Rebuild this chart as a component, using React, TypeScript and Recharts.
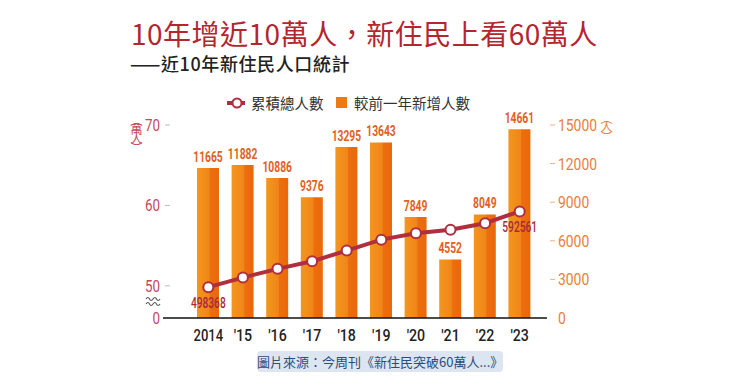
import React from 'react';
import {
  ComposedChart,
  Bar,
  Line,
  XAxis,
  YAxis,
  LabelList,
} from 'recharts';

// values
const years = ["2014", "'15", "'16", "'17", "'18", "'19", "'20", "'21", "'22", "'23"];
const newResidents = [11665, 11882, 10886, 9376, 13295, 13643, 7849, 4552, 8049, 14661];
const cumulative = [498368, 510250, 521136, 530512, 543807, 557450, 565299, 569851, 577900, 592561];

const leftTicks = [460000, 500000, 600000, 700000];
const rightTicks = [0, 3000, 6000, 9000, 12000, 15000];

const data = years.map((year, i) => ({
  year,
  added: newResidents[i],
  total: cumulative[i],
}));

const NUM_FONT = "Roboto, 'Liberation Sans', sans-serif";
const CJK_FONT = "'Noto Sans CJK TC', 'Noto Sans', sans-serif";

const LINE_RED = '#B02E3E';
const BAR_LABEL = '#E2601C';

// squeeze digits to look like a condensed face
const condensedWidth = (s: string, digit: number) =>
  s.split('').reduce((w, c) => w + (c === "'" ? digit * 0.5 : digit), 0);

const NarrowText = ({ x, y, text, digit, ...rest }: any) => (
  <text
    x={x}
    y={y}
    textLength={condensedWidth(text, digit)}
    lengthAdjust="spacingAndGlyphs"
    fontFamily={NUM_FONT}
    {...rest}
  >
    {text}
  </text>
);

const BarLabel = (props: any) => {
  const { x, y, width, value } = props;
  const s = String(value);
  const w = condensedWidth(s, 5.9);
  return <NarrowText x={x + width / 2 - w / 2} y={y - 6} text={s} digit={5.9} fill={BAR_LABEL} fontSize={15} fontWeight="bold" />;
};

// only first and last points carry a label
const TotalLabel = (props: any) => {
  const { x, y, value, index } = props;
  if (index !== 0 && index !== years.length - 1) return null;
  const s = String(value);
  const w = condensedWidth(s, 5.8);
  return <NarrowText x={x - w / 2} y={y + 21} text={s} digit={5.8} fill="#A8283C" fontSize={15} fontWeight="500" />;
};

const XTick = (props: any) => {
  const { x, y, payload } = props;
  const s = String(payload.value);
  const w = condensedWidth(s, 7.4);
  return <NarrowText x={x - w / 2} y={y + 15} text={s} digit={7.4} fill="#222" fontSize={16} fontWeight="500" />;
};

const LeftTick = (props: any) => {
  const { x, y, payload } = props;
  const v = payload.value as number;
  const s = v === 460000 ? '0' : String(v / 10000);
  const w = condensedWidth(s, 7.5);
  return (
    <g>
      {v !== 460000 && <line x1={x + 10} x2={x + 15} y1={y} y2={y} stroke="#bbb" strokeWidth={1} />}
      <NarrowText x={x + 5 - w} y={y + 6} text={s} digit={7.5} fill="#C4485A" fontSize={17} />
    </g>
  );
};

const RightTick = (props: any) => {
  const { x, y, payload } = props;
  const s = String(payload.value);
  return (
    <g>
      {payload.value !== 0 && <line x1={x - 5} x2={x} y1={y} y2={y} stroke="#F0B080" strokeWidth={1} />}
      <NarrowText x={x + 3} y={y + 6} text={s} digit={7.8} fill="#E8803A" fontSize={17} />
    </g>
  );
};

const VerticalUnit = ({ text, left, top, color }: { text: string; left: number; top: number; color: string }) => (
  <div style={{ position: 'absolute', left, top, writingMode: 'vertical-rl', color, fontFamily: CJK_FONT, fontSize: 12, lineHeight: '13px', letterSpacing: -2.5 }}>
    {text}
  </div>
);

const App: React.FC = () => {
  return (
    <div style={{ position: 'relative', width: 740, height: 387, background: '#fff', overflow: 'hidden' }}>
      <style>{'body{margin:0;}'}</style>

      <div style={{ position: 'absolute', left: 131, top: 17, fontFamily: CJK_FONT, fontSize: 28, lineHeight: '32px', color: '#B3262E', whiteSpace: 'nowrap', letterSpacing: 0.5 }}>
        10年增近10萬人，新住民上看60萬人
      </div>
      <div style={{ position: 'absolute', left: 130, top: 52, fontFamily: CJK_FONT, fontSize: 18, fontWeight: 500, lineHeight: '22px', color: '#222', whiteSpace: 'nowrap', letterSpacing: 0.6 }}>
        ——近10年新住民人口統計
      </div>

      {/* legend */}
      <svg style={{ position: 'absolute', left: 226, top: 95 }} width={20} height={16}>
        <line x1={1} y1={8} x2={19} y2={8} stroke={LINE_RED} strokeWidth={4} />
        <circle cx={11} cy={8} r={4.5} fill="#fff" stroke={LINE_RED} strokeWidth={2} />
      </svg>
      <div style={{ position: 'absolute', left: 251, top: 93, fontFamily: CJK_FONT, fontSize: 14.5, lineHeight: '20px', color: '#333', whiteSpace: 'nowrap' }}>
        累積總人數
      </div>
      <div style={{ position: 'absolute', left: 336, top: 97, width: 11, height: 11, background: '#EF7A12' }} />
      <div style={{ position: 'absolute', left: 354, top: 93, fontFamily: CJK_FONT, fontSize: 14.5, lineHeight: '20px', color: '#333', whiteSpace: 'nowrap' }}>
        較前一年新增人數
      </div>

      <VerticalUnit text="（萬人）" left={130} top={114} color="#C4485A" />
      <VerticalUnit text="（人）" left={600} top={112} color="#E8803A" />

      <ComposedChart
        width={740}
        height={387}
        data={data}
        margin={{ top: 125, right: 133, bottom: 39, left: 123 }}
        style={{ position: 'absolute', left: 0, top: 0 }}
      >
        <defs>
          <linearGradient id="barGrad" x1="0" y1="0" x2="1" y2="0">
            <stop offset="0" stopColor="#F4961F" />
            <stop offset="0.55" stopColor="#F08618" />
            <stop offset="0.6" stopColor="#EC6E0D" />
            <stop offset="1" stopColor="#EA680A" />
          </linearGradient>
        </defs>
        <XAxis
          dataKey="year"
          padding={{ left: 28, right: 10 }}
          axisLine={{ stroke: '#111', strokeWidth: 1.5 }}
          tickLine={false}
          tick={<XTick />}
          interval={0}
        />
        <YAxis
          yAxisId="left"
          width={40}
          domain={[460000, 700000]}
          ticks={leftTicks}
          allowDataOverflow
          axisLine={false}
          tickLine={false}
          tick={<LeftTick />}
        />
        <YAxis
          yAxisId="right"
          orientation="right"
          width={60}
          domain={[0, 15000]}
          ticks={rightTicks}
          axisLine={false}
          tickLine={false}
          tick={<RightTick />}
        />
        <Bar yAxisId="right" dataKey="added" barSize={22} fill="url(#barGrad)" isAnimationActive={false}>
          <LabelList dataKey="added" content={BarLabel} />
        </Bar>
        <Line
          yAxisId="left"
          dataKey="total"
          stroke={LINE_RED}
          strokeWidth={4}
          dot={{ r: 5, fill: '#fff', stroke: LINE_RED, strokeWidth: 2 }}
          isAnimationActive={false}
        >
          <LabelList dataKey="total" content={TotalLabel} />
        </Line>
      </ComposedChart>

      {/* axis break mark */}
      <svg style={{ position: 'absolute', left: 145, top: 295 }} width={16} height={12}>
        <path d="M1 4 q2 -3 3.5 0 t3.5 0 t3.5 0 t3.5 0" fill="none" stroke="#555" strokeWidth={1.2} />
        <path d="M1 9 q2 -3 3.5 0 t3.5 0 t3.5 0 t3.5 0" fill="none" stroke="#555" strokeWidth={1.2} />
      </svg>

      <div style={{ position: 'absolute', left: 257, top: 351, width: 246, height: 21, borderRadius: 4, background: '#DCE5F0', color: '#2B4C7E', fontFamily: CJK_FONT, fontSize: 13, lineHeight: '21px', textAlign: 'center', whiteSpace: 'nowrap' }}>
        圖片來源：今周刊《新住民突破60萬人...》
      </div>
    </div>
  );
};

export default App;
